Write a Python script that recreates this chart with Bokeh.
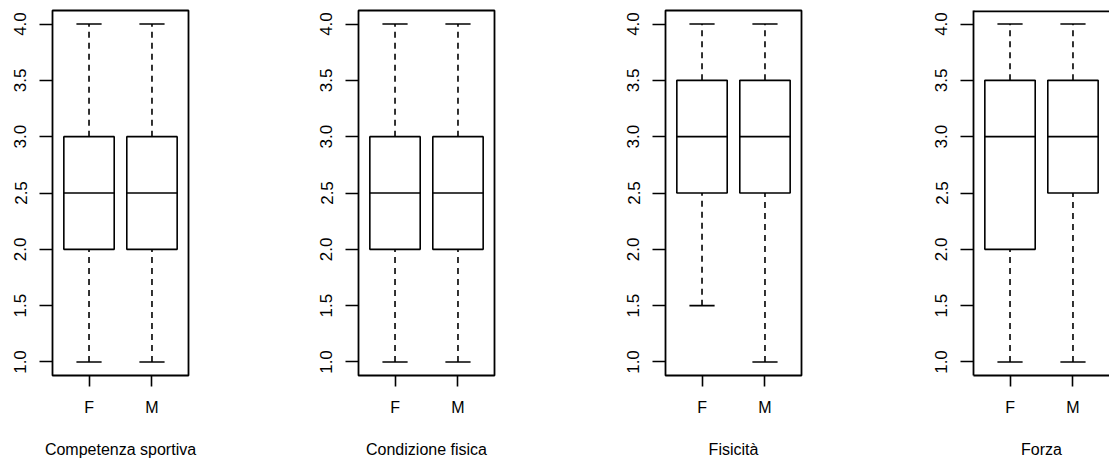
from bokeh.plotting import figure
from bokeh.layouts import row
from bokeh.models import ColumnDataSource, FixedTicker, NumeralTickFormatter, Range1d, Span
from bokeh.transform import dodge
from bokeh.embed import file_html
from bokeh.resources import INLINE

# Box-plot summaries (lower whisker, Q1, median, Q3, upper whisker) per group
groups = ["F", "M"]
group_pos = [1, 2]
panel_titles = ["Competenza sportiva", "Condizione fisica", "Fisicità", "Forza"]
lower_whisker = [[1.0, 1.0], [1.0, 1.0], [1.5, 1.0], [1.0, 1.0]]
q1 = [[2.0, 2.0], [2.0, 2.0], [2.5, 2.5], [2.0, 2.5]]
median = [[2.5, 2.5], [2.5, 2.5], [3.0, 3.0], [3.0, 3.0]]
q3 = [[3.0, 3.0], [3.0, 3.0], [3.5, 3.5], [3.5, 3.5]]
upper_whisker = [[4.0, 4.0], [4.0, 4.0], [4.0, 4.0], [4.0, 4.0]]
y_ticks = [1.0, 1.5, 2.0, 2.5, 3.0, 3.5, 4.0]

FONT = "Liberation Sans"
LW = 1.6

widths = [307, 307, 307, 188]
left_borders = [52, 51, 51, 52]
right_borders = [119, 120, 120, 0]

panels = []
for i, title in enumerate(panel_titles):
    src = ColumnDataSource(dict(
        x=group_pos, lw=lower_whisker[i], q1=q1[i], med=median[i],
        q3=q3[i], uw=upper_whisker[i]))

    p = figure(width=widths[i], height=463, output_backend="svg",
               toolbar_location=None, tools="",
               x_range=Range1d(0.42, 2.58), y_range=Range1d(0.88, 4.12),
               min_border_left=left_borders[i], min_border_right=right_borders[i],
               min_border_top=10, min_border_bottom=88)
    p.xgrid.visible = False
    p.ygrid.visible = False
    p.background_fill_color = "white"
    p.border_fill_color = "white"

    # whiskers (dashed) from hinges to extremes
    p.segment(x0="x", y0="q3", x1="x", y1="uw", source=src,
              line_color="black", line_width=LW, line_dash="6 5")
    p.segment(x0="x", y0="lw", x1="x", y1="q1", source=src,
              line_color="black", line_width=LW, line_dash="6 5")
    # whisker caps
    p.segment(x0=dodge("x", -0.2), y0="uw", x1=dodge("x", 0.2), y1="uw",
              source=src, line_color="black", line_width=LW)
    p.segment(x0=dodge("x", -0.2), y0="lw", x1=dodge("x", 0.2), y1="lw",
              source=src, line_color="black", line_width=LW)
    # boxes and medians
    p.vbar(x="x", width=0.8, bottom="q1", top="q3", source=src,
           fill_color="white", line_color="black", line_width=LW)
    p.segment(x0=dodge("x", -0.4), y0="med", x1=dodge("x", 0.4), y1="med",
              source=src, line_color="black", line_width=LW)

    # frame
    if i < 3:
        p.outline_line_color = "black"
        p.outline_line_width = 1.8
        p.outline_line_alpha = 1.0
        p.xaxis.axis_line_color = None
        p.yaxis.axis_line_color = None
    else:
        # last panel runs to the page edge: draw left, bottom and top sides only
        p.outline_line_color = None
        p.xaxis.axis_line_color = "black"
        p.xaxis.axis_line_width = 1.8
        p.yaxis.axis_line_color = "black"
        p.yaxis.axis_line_width = 1.8
        p.add_layout(Span(location=4.12, dimension="width",
                          line_color="black", line_width=3.6))

    # y axis
    yax = p.yaxis[0]
    yax.ticker = FixedTicker(ticks=y_ticks)
    yax.formatter = NumeralTickFormatter(format="0.0")
    yax.major_label_orientation = "vertical"
    yax.major_tick_out = 13
    yax.major_tick_in = 0
    yax.minor_tick_out = 0
    yax.minor_tick_in = 0
    yax.major_tick_line_color = "black"
    yax.major_tick_line_width = LW
    yax.major_label_text_font = FONT
    yax.major_label_text_font_size = "17px"
    yax.major_label_text_color = "black"
    yax.major_label_standoff = 13

    # x axis
    xax = p.xaxis[0]
    xax.ticker = FixedTicker(ticks=group_pos)
    xax.major_label_overrides = {pos: g for pos, g in zip(group_pos, groups)}
    xax.major_tick_out = 11
    xax.major_tick_in = 0
    xax.minor_tick_out = 0
    xax.minor_tick_in = 0
    xax.major_tick_line_color = "black"
    xax.major_tick_line_width = LW
    xax.major_label_text_font = FONT
    xax.major_label_text_font_size = "16px"
    xax.major_label_text_color = "black"
    xax.major_label_standoff = 12
    xax.axis_label = title
    xax.axis_label_text_font = FONT
    xax.axis_label_text_font_size = "16px"
    xax.axis_label_text_font_style = "normal"
    xax.axis_label_text_color = "black"
    xax.axis_label_standoff = 22

    panels.append(p)

layout = row(*panels)
open("out.html", "w").write(file_html(layout, INLINE))
